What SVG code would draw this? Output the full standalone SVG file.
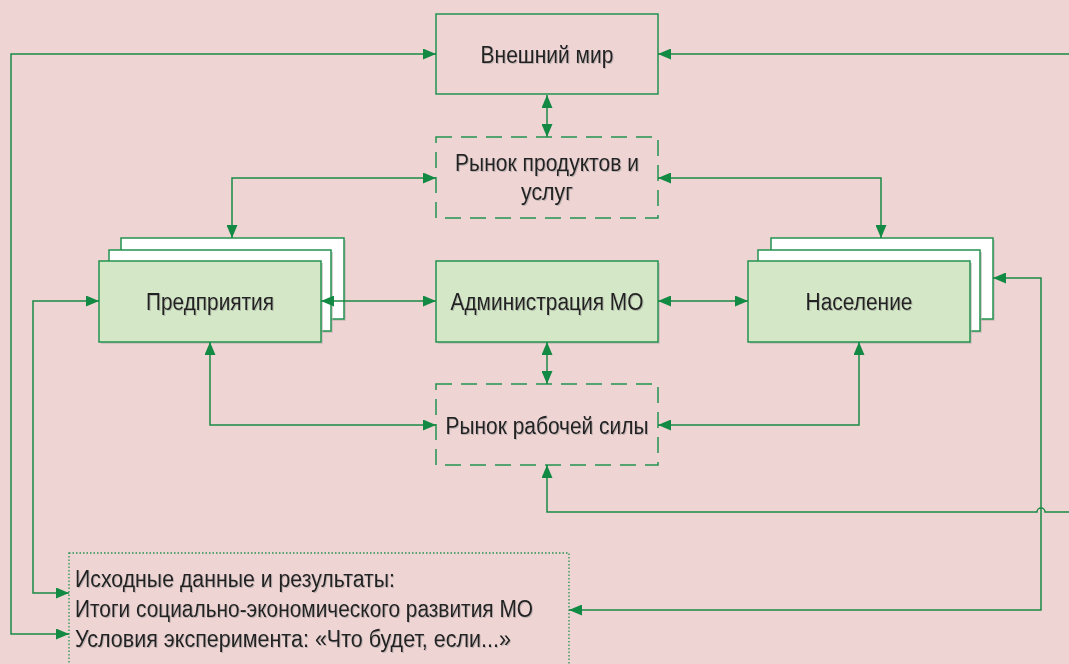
<svg xmlns="http://www.w3.org/2000/svg" width="1069" height="664" viewBox="0 0 1069 664">
<style>
.bg{fill:#efd4d4}
.box{fill:none;stroke:#22924f;stroke-width:1.5}
.dash{fill:none;stroke:#22924f;stroke-width:1.5;stroke-dasharray:16 9}
.dot{fill:none;stroke:#22924f;stroke-width:1.3;stroke-dasharray:1.5 2}
.green{fill:#d4e7c6;stroke:#22924f;stroke-width:1.5}
.white{fill:#ffffff;stroke:#22924f;stroke-width:1.5}
.shadow{fill:#bfb3b3;opacity:0.6}
.t{font-family:"Liberation Sans",Arial,sans-serif;font-size:23px;fill:#222222;filter:url(#ts)}
.c{text-anchor:middle}
.con{fill:none;stroke:#1a8a45;stroke-width:1.5}
</style>
<defs>
<marker id="ah" viewBox="0 0 13 11" refX="13" refY="5.5" markerWidth="13" markerHeight="11" markerUnits="userSpaceOnUse" orient="auto-start-reverse">
<path d="M0,0 L13,5.5 L0,11 z" fill="#138a43"/>
</marker>
<filter id="ts" x="-5%" y="-20%" width="110%" height="140%">
<feDropShadow dx="1" dy="1" stdDeviation="0.6" flood-color="#888" flood-opacity="0.45"/>
</filter>
</defs>
<rect class="bg" x="0" y="0" width="1069" height="664"/>

<g id="vneshniy-mir">
<rect class="box" x="436" y="14" width="222" height="80"/>
<text class="t c" x="547" y="63" textLength="133" lengthAdjust="spacingAndGlyphs">Внешний мир</text>
</g>

<g id="rynok-produktov">
<rect class="dash" x="436" y="137" width="222" height="81"/>
<text class="t c" x="547" y="171" textLength="184" lengthAdjust="spacingAndGlyphs">Рынок продуктов и</text>
<text class="t c" x="547" y="200" textLength="52" lengthAdjust="spacingAndGlyphs">услуг</text>
</g>

<g id="predpriyatiya">
<rect class="shadow" x="123" y="240" width="223" height="81"/>
<rect class="white" x="121" y="238" width="223" height="81"/>
<rect class="shadow" x="111" y="252" width="222" height="81"/>
<rect class="white" x="109" y="250" width="222" height="81"/>
<rect class="shadow" x="101" y="263" width="222" height="81"/>
<rect class="green" x="99" y="261" width="222" height="81"/>
<text class="t c" x="210" y="310" textLength="128" lengthAdjust="spacingAndGlyphs">Предприятия</text>
</g>

<g id="administratsiya">
<rect class="shadow" x="438" y="263" width="222" height="81"/>
<rect class="green" x="436" y="261" width="222" height="81"/>
<text class="t c" x="547" y="310" textLength="193" lengthAdjust="spacingAndGlyphs">Администрация МО</text>
</g>

<g id="naselenie">
<rect class="shadow" x="773" y="240" width="222" height="81"/>
<rect class="white" x="771" y="238" width="222" height="81"/>
<rect class="shadow" x="760" y="252" width="222" height="81"/>
<rect class="white" x="758" y="250" width="222" height="81"/>
<rect class="shadow" x="750" y="263" width="222" height="81"/>
<rect class="green" x="748" y="261" width="222" height="81"/>
<text class="t c" x="859" y="310" textLength="107" lengthAdjust="spacingAndGlyphs">Население</text>
</g>

<g id="rynok-rabochey-sily">
<rect class="dash" x="436" y="384" width="222" height="81"/>
<text class="t c" x="547" y="434" textLength="203" lengthAdjust="spacingAndGlyphs">Рынок рабочей силы</text>
</g>

<g id="iskhodnye-dannye">
<rect class="dot" x="69" y="553" width="500" height="120"/>
<text class="t" x="75" y="587" textLength="320" lengthAdjust="spacingAndGlyphs">Исходные данные и результаты:</text>
<text class="t" x="75" y="617" textLength="458" lengthAdjust="spacingAndGlyphs">Итоги социально-экономического развития МО</text>
<text class="t" x="75" y="647" textLength="436" lengthAdjust="spacingAndGlyphs">Условия эксперимента: «Что будет, если...»</text>
</g>

<g id="connectors">
<path class="con" d="M436,54 H11 V634 H69" marker-start="url(#ah)" marker-end="url(#ah)"/>
<path class="con" d="M99,301 H33 V593 H69" marker-start="url(#ah)" marker-end="url(#ah)"/>
<path class="con" d="M1069,54 H658" marker-end="url(#ah)"/>
<path class="con" d="M547,95 V137" marker-start="url(#ah)" marker-end="url(#ah)"/>
<path class="con" d="M436,178 H232 V238" marker-start="url(#ah)" marker-end="url(#ah)"/>
<path class="con" d="M658,178 H881 V238" marker-start="url(#ah)" marker-end="url(#ah)"/>
<path class="con" d="M321,301 H436" marker-start="url(#ah)" marker-end="url(#ah)"/>
<path class="con" d="M658,301 H748" marker-start="url(#ah)" marker-end="url(#ah)"/>
<path class="con" d="M547,342 V384" marker-start="url(#ah)" marker-end="url(#ah)"/>
<path class="con" d="M210,342 V425 H436" marker-start="url(#ah)" marker-end="url(#ah)"/>
<path class="con" d="M859,342 V425 H658" marker-start="url(#ah)" marker-end="url(#ah)"/>
<path class="con" d="M1069,512 H1045 A4,4 0 0 0 1037,512 H547 V465" marker-end="url(#ah)"/>
<path class="con" d="M993,278 H1041 V610 H569" marker-start="url(#ah)" marker-end="url(#ah)"/>
</g>
</svg>
